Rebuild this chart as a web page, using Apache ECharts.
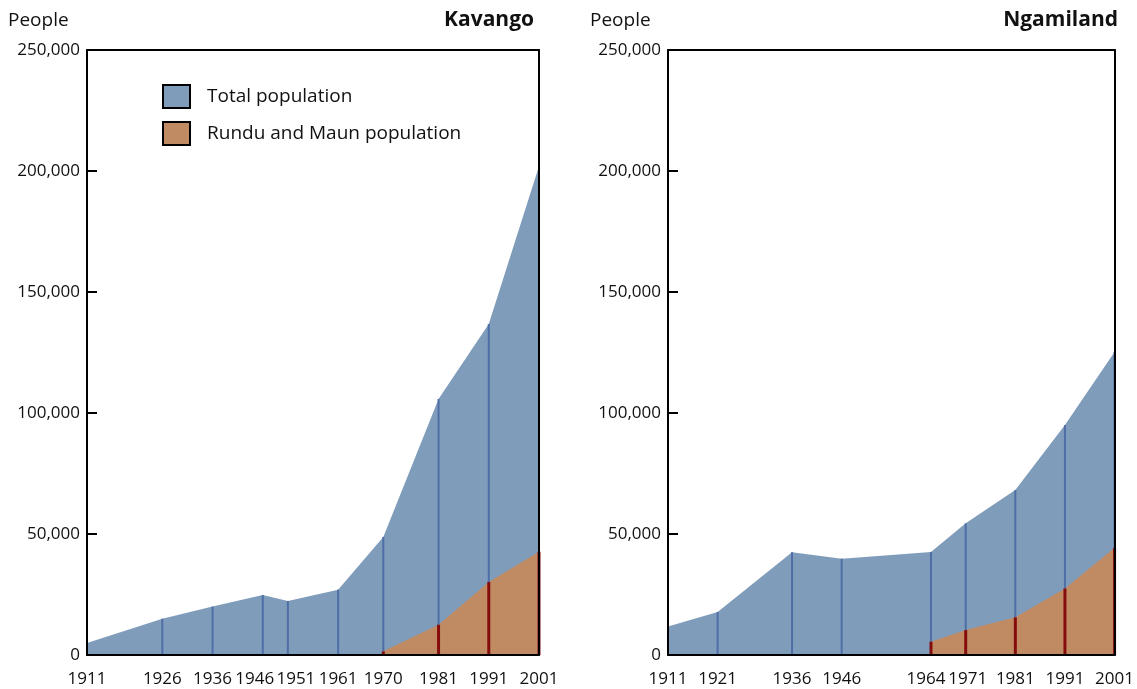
<!DOCTYPE html>
<html>
<head>
<meta charset="utf-8">
<script src="https://cdn.jsdelivr.net/npm/echarts@6/dist/echarts.min.js"></script>
<style>
html,body{margin:0;padding:0;background:#fff;}
#chart{width:1137px;height:689px;}
</style>
</head>
<body>
<div id="chart"></div>
<script>
// ---- data ----
const kavYears = [1911, 1926, 1936, 1946, 1951, 1961, 1970, 1981, 1991, 2001];
const kavTotal = [5000, 15000, 20000, 24800, 22300, 27000, 48800, 105800, 136800, 202000];
const kavUrban = [null, null, null, null, null, null, 1500, 12500, 30200, 42700];

const ngaYears = [1911, 1921, 1936, 1946, 1964, 1971, 1981, 1991, 2001];
const ngaTotal = [11800, 17800, 42500, 39800, 42600, 54400, 68200, 95000, 125200];
const ngaUrban = [null, null, null, null, 5500, 10300, 15600, 27500, 44300];

const seriesNames = ['Total population', 'Rundu and Maun population'];

// ---- style ----
const FONT = '"Open Sans", sans-serif';
const BLUE = '#7f9cbb';
const ORANGE = '#c08b63';
const BLUE_LINE = '#4f6ea6';
const RED_LINE = '#850c0c';
const XFS = 17;

// label nudges (style only) to keep crowded year labels apart, per panel
const labelShifts = [{1946: -8, 1951: 8}, {1964: -5, 1971: 2}];

const grids = [
  {left: 87, top: 50, width: 452, height: 605},
  {left: 668, top: 50, width: 453, height: 605}
];

function pairs(xs, ys) {
  const out = [];
  xs.forEach((x, i) => { if (ys[i] != null) out.push([x, ys[i]]); });
  return out;
}
function triples(xs, t, u) {
  return xs.map((x, i) => [x, t[i], u[i] == null ? 0 : u[i]]);
}

function makeLabel(shifts) {
  const rich = {n: {fontFamily: FONT, fontSize: XFS, color: '#111'}};
  Object.keys(shifts).forEach(k => {
    const s = shifts[k];
    rich[(s < 0 ? 'l' : 'r') + Math.abs(s)] = {fontFamily: FONT, fontSize: XFS, color: '#111',
      padding: s < 0 ? [0, 2 * Math.abs(s), 0, 0] : [0, 0, 0, 2 * Math.abs(s)]};
  });
  const formatter = function (v) {
    const s = shifts[v];
    if (!s) return '{n|' + v + '}';
    return '{' + (s < 0 ? 'l' : 'r') + Math.abs(s) + '|' + v + '}';
  };
  return {rich: rich, formatter: formatter};
}

const xAxes = [], yAxes = [], series = [];
[[kavYears, kavTotal, kavUrban], [ngaYears, ngaTotal, ngaUrban]].forEach((d, gi) => {
  const years = d[0];
  const lab = makeLabel(labelShifts[gi]);
  xAxes.push({
    type: 'value', gridIndex: gi, min: 1911, max: 2001, position: 'bottom', z: 10,
    splitLine: {show: false},
    axisLine: {show: true, onZero: false, lineStyle: {color: '#000', width: 2}},
    axisTick: {show: false},
    axisLabel: {customValues: years, formatter: lab.formatter, margin: 16, rich: lab.rich,
      color: '#111', fontFamily: FONT, fontSize: XFS}
  });
  xAxes.push({
    type: 'value', gridIndex: gi, min: 1911, max: 2001, position: 'top', z: 10,
    splitLine: {show: false},
    axisLine: {show: true, onZero: false, lineStyle: {color: '#000', width: 2}},
    axisTick: {show: false}, axisLabel: {show: false}
  });
  yAxes.push({
    type: 'value', gridIndex: gi, min: 0, max: 250000, interval: 50000, position: 'left', z: 10,
    splitLine: {show: false},
    axisLine: {show: true, lineStyle: {color: '#000', width: 2}},
    axisTick: {show: true, inside: true, length: 10, lineStyle: {color: '#000', width: 2}},
    axisLabel: {formatter: v => v.toLocaleString('en-US'), margin: 7,
      color: '#111', fontFamily: FONT, fontSize: 17}
  });
  yAxes.push({
    type: 'value', gridIndex: gi, min: 0, max: 250000, interval: 50000, position: 'right', z: 10,
    splitLine: {show: false},
    axisLine: {show: true, lineStyle: {color: '#000', width: 2}},
    axisTick: {show: false}, axisLabel: {show: false}
  });
  const xi = gi * 2, yi = gi * 2;
  series.push({
    name: seriesNames[0], type: 'line', xAxisIndex: xi, yAxisIndex: yi,
    data: pairs(years, d[1]), symbol: 'none', silent: true,
    lineStyle: {width: 0}, areaStyle: {color: BLUE, opacity: 1}, itemStyle: {color: BLUE}, z: 2
  });
  series.push({
    name: seriesNames[1], type: 'line', xAxisIndex: xi, yAxisIndex: yi,
    data: pairs(years, d[2]), symbol: 'none', silent: true,
    lineStyle: {width: 0}, areaStyle: {color: ORANGE, opacity: 1}, itemStyle: {color: ORANGE}, z: 3
  });
  series.push({
    type: 'custom', xAxisIndex: xi, yAxisIndex: yi, silent: true, z: 4,
    data: triples(years, d[1], d[2]),
    renderItem: function (params, api) {
      const x = api.value(0), t = api.value(1), u = api.value(2);
      const p0 = api.coord([x, 0]), pu = api.coord([x, u]), pt = api.coord([x, t]);
      const children = [{type: 'line', shape: {x1: pt[0], y1: pt[1], x2: pu[0], y2: pu[1]},
        style: {stroke: BLUE_LINE, lineWidth: 2}}];
      if (u > 0) children.push({type: 'line', shape: {x1: pu[0], y1: pu[1], x2: p0[0], y2: p0[1]},
        style: {stroke: RED_LINE, lineWidth: 3}});
      return {type: 'group', children: children};
    }
  });
});

const chart = echarts.init(document.getElementById('chart'), null, {renderer: 'canvas'});
chart.setOption({
  animation: false,
  backgroundColor: '#fff',
  grid: grids,
  xAxis: xAxes,
  yAxis: yAxes,
  title: [
    {text: 'People', left: 3, top: 6, textStyle: {fontFamily: FONT, fontSize: 19, fontWeight: 'normal', color: '#111'}},
    {text: 'Kavango', right: 1137 - 539, top: 5, textStyle: {fontFamily: FONT, fontSize: 21, fontWeight: 'bold', color: '#111'}},
    {text: 'People', left: 585, top: 6, textStyle: {fontFamily: FONT, fontSize: 19, fontWeight: 'normal', color: '#111'}},
    {text: 'Ngamiland', right: 1137 - 1123, top: 5, textStyle: {fontFamily: FONT, fontSize: 21, fontWeight: 'bold', color: '#111'}}
  ],
  legend: {
    orient: 'vertical', left: 157, top: 79, itemWidth: 27, itemHeight: 23, itemGap: 12,
    selectedMode: false,
    textStyle: {fontFamily: FONT, fontSize: 19, color: '#111', padding: [0, 0, 0, 12]},
    data: [
      {name: seriesNames[0], icon: 'rect', itemStyle: {color: BLUE, borderColor: '#000', borderWidth: 2}},
      {name: seriesNames[1], icon: 'rect', itemStyle: {color: ORANGE, borderColor: '#000', borderWidth: 2}}
    ]
  },
  series: series
});
</script>
</body>
</html>
